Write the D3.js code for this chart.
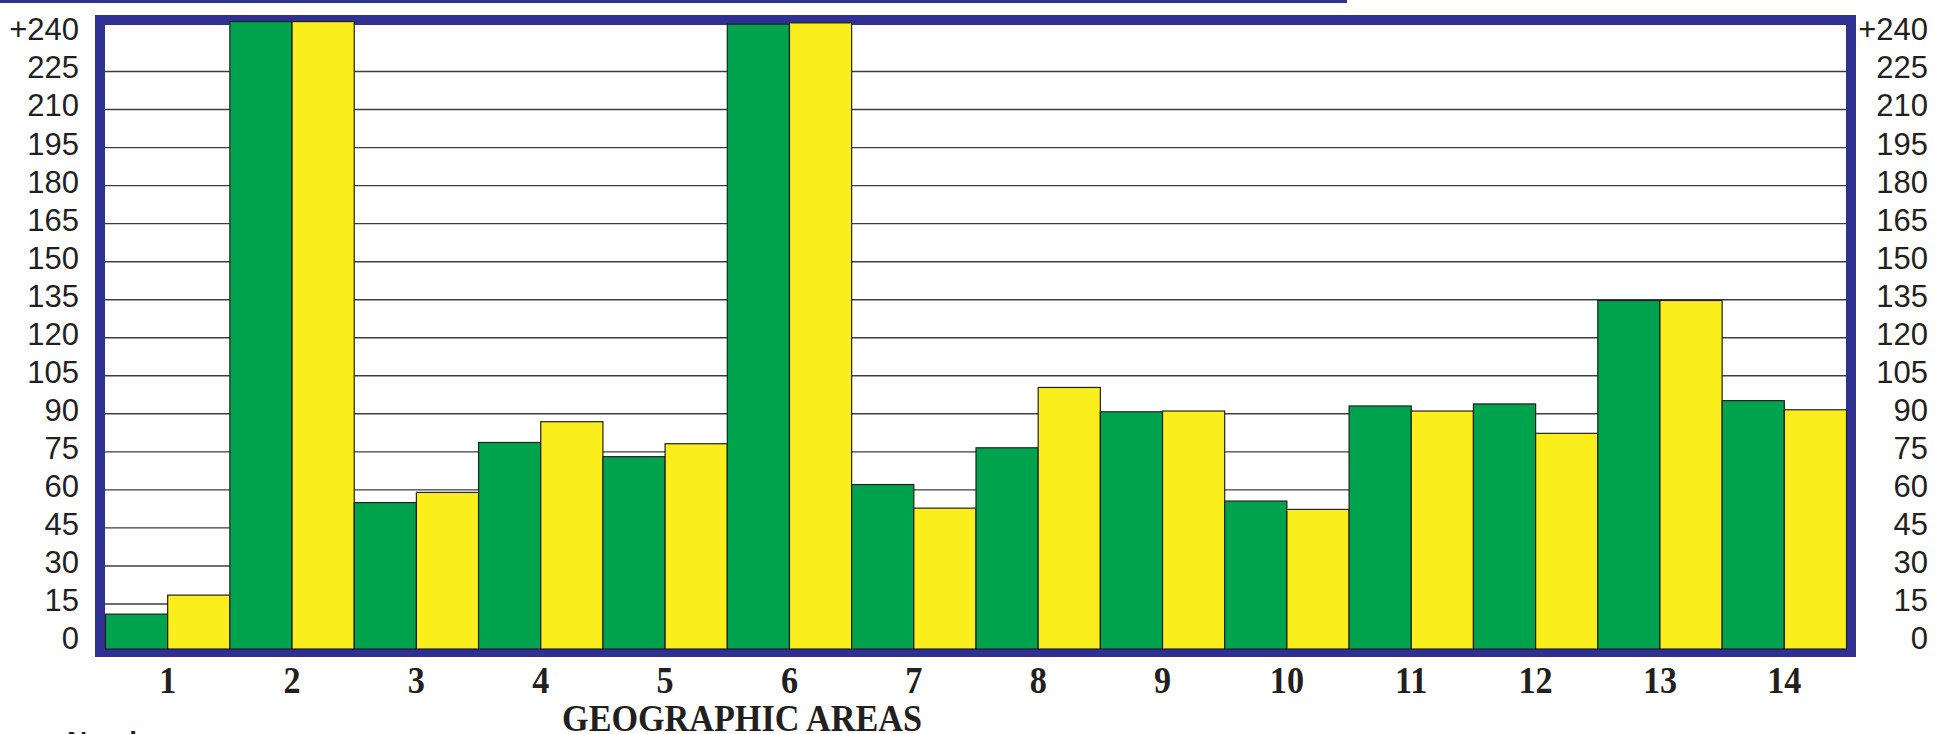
<!DOCTYPE html>
<html>
<head>
<meta charset="utf-8">
<script src="https://cdn.jsdelivr.net/npm/d3@7"></script>
<style>
    body { margin: 0; background: #ffffff; }
    svg { display: block; }
</style>
</head>
<body>
<div id="chart"></div>
<script>
// data
const areas = ["1","2","3","4","5","6","7","8","9","10","11","12","13","14"];
const greenValues  = [10.8, 244.5, 54.8, 78.5, 72.9, 243.5, 61.9, 76.4, 90.6, 55.4, 92.9, 93.7, 134.5, 95.0];
const yellowValues = [18.3, 244.5, 58.8, 86.7, 78.0, 244.0, 52.6, 100.2, 90.9, 52.1, 90.9, 82.1, 134.5, 91.4];
const yTicks = [0, 15, 30, 45, 60, 75, 90, 105, 120, 135, 150, 165, 180, 195, 210, 225, 240];
const gridTicks = yTicks.filter(v => v > 0 && v < 240);
const seriesKeys = ["green", "yellow"];
const xTitle = "GEOGRAPHIC AREAS";
const cutLabel = "Number";

const width = 1945, height = 734;
const frame = {left: 105, right: 1846, top: 25, bottom: 648};
const frameColor = "#2e3192";
const colors = {green: "#00a34d", yellow: "#faee1c"};
const textColor = "#231f20";

const data = areas.map((a, i) => ({area: a, green: greenValues[i], yellow: yellowValues[i]}));

const svg = d3.select("#chart").append("svg")
    .attr("width", width)
    .attr("height", height);

const x0 = d3.scaleBand().domain(areas).range([frame.left + 0.5, frame.right + 0.5]).padding(0);
const x1 = d3.scaleBand().domain(seriesKeys).range([0, x0.bandwidth()]).padding(0);
const y = d3.scaleLinear().domain([0, 240]).range([641.5, 33]);

// thin rule across the top
svg.append("rect")
    .attr("x", 0).attr("y", 0)
    .attr("width", 1347).attr("height", 3)
    .attr("fill", frameColor);

// plot frame
svg.append("rect")
    .attr("x", frame.left - 5).attr("y", frame.top - 5)
    .attr("width", frame.right - frame.left + 10)
    .attr("height", frame.bottom - frame.top + 9)
    .attr("fill", "#ffffff")
    .attr("stroke", frameColor)
    .attr("stroke-width", 10);

// gridlines
const gridG = svg.append("g")
    .attr("transform", "translate(" + frame.left + ",0)")
    .call(d3.axisLeft(y).tickValues(gridTicks).tickSize(-(frame.right - frame.left)).tickFormat(""));
gridG.select(".domain").remove();
gridG.selectAll(".tick line")
    .attr("stroke", "#3d3d3d")
    .attr("stroke-width", 1.4);

// bars
const groups = svg.append("g").attr("class", "bars")
    .selectAll("g")
    .data(data)
    .join("g")
    .attr("transform", d => "translate(" + x0(d.area) + ",0)");

groups.selectAll("rect")
    .data(d => seriesKeys.map(k => ({key: k, value: d[k]})))
    .join("rect")
    .attr("x", d => x1(d.key))
    .attr("y", d => y(d.value))
    .attr("width", x1.bandwidth())
    .attr("height", d => frame.bottom + 1 - y(d.value))
    .attr("fill", d => colors[d.key])
    .attr("stroke", textColor)
    .attr("stroke-width", 1.2);

// y labels, both sides
const tickFmt = v => v === 240 ? "+240" : String(v);
function styleYAxis(g){
    g.select(".domain").remove();
    g.selectAll("text")
        .attr("fill", textColor)
        .style("font-family", "'Liberation Sans', Arial, Helvetica, sans-serif")
        .style("font-size", "31px");
}
svg.append("g")
    .attr("transform", "translate(79,-3)")
    .call(d3.axisLeft(y).tickValues(yTicks).tickSize(0).tickPadding(0).tickFormat(tickFmt))
    .call(styleYAxis);
svg.append("g")
    .attr("transform", "translate(1928,-3)")
    .call(d3.axisLeft(y).tickValues(yTicks).tickSize(0).tickPadding(0).tickFormat(tickFmt))
    .call(styleYAxis);

// area numbers
svg.append("g").selectAll("text")
    .data(areas)
    .join("text")
    .attr("transform", d => "translate(" + (x0(d) + x0.bandwidth() / 2) + ",693) scale(0.9,1)")
    .attr("text-anchor", "middle")
    .attr("fill", textColor)
    .style("font-family", "'Liberation Serif', 'Times New Roman', serif")
    .style("font-weight", "bold")
    .style("font-size", "38px")
    .text(d => d);

svg.append("text")
    .attr("transform", "translate(742,731) scale(0.9,1)")
    .attr("text-anchor", "middle")
    .attr("fill", textColor)
    .style("font-family", "'Liberation Serif', 'Times New Roman', serif")
    .style("font-weight", "bold")
    .style("font-size", "38px")
    .text(xTitle);

// label cut off by the bottom edge, as in the source
svg.append("text")
    .attr("x", 67).attr("y", 751)
    .attr("fill", textColor)
    .style("font-family", "'Liberation Sans', Arial, Helvetica, sans-serif")
    .style("font-weight", "bold")
    .style("font-size", "28px")
    .text(cutLabel);
</script>
</body>
</html>
